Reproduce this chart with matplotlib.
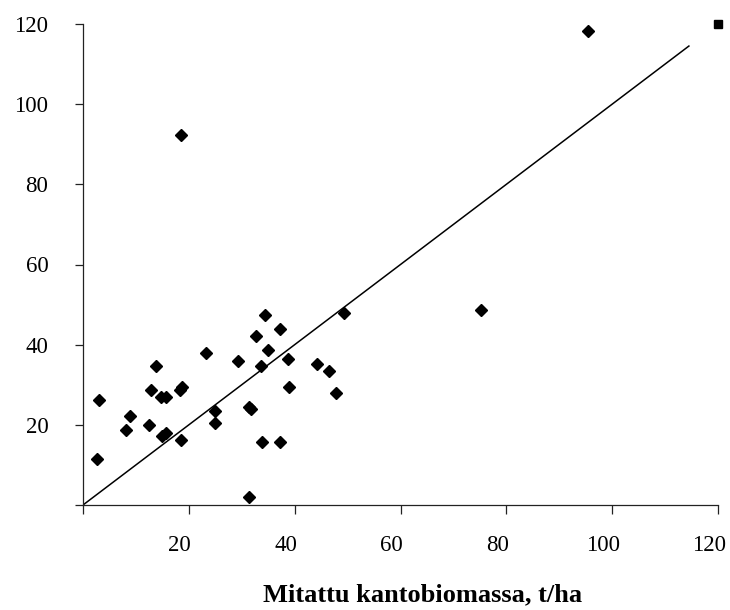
import numpy as np
import matplotlib
matplotlib.use("Agg")
from matplotlib import pyplot as plt
import matplotlib.transforms as mtransforms

# measured vs. modelled stump biomass, t/ha
measured = [2.6, 3.1, 8.1, 8.8, 12.5, 12.9, 13.8, 14.7, 15.7, 14.9, 15.7, 18.3,
            18.8, 18.5, 18.5, 23.2, 25.0, 25.0, 29.2, 31.4, 31.7, 31.4, 32.7, 33.6,
            34.4, 35.0, 33.9, 37.2, 37.2, 38.8, 38.9, 44.2, 46.5, 47.9, 49.3, 75.2,
            95.5]
modelled = [11.4, 26.2, 18.7, 22.2, 20.0, 28.7, 34.8, 27.0, 27.0, 17.2, 17.9, 28.7,
            29.4, 16.2, 92.4, 37.8, 23.5, 20.4, 36.0, 24.4, 23.9, 1.9, 42.2, 34.8,
            47.4, 38.7, 15.6, 15.6, 43.8, 36.4, 29.5, 35.3, 33.5, 27.9, 48.0, 48.7,
            118.3]

# 1:1 reference line and the corner point
line_x = [0, 114.5]
line_y = [0, 114.5]
corner_x = [120]
corner_y = [120]

ticks = [0, 20, 40, 60, 80, 100, 120]
tick_labels = ['', '20', '40', '60', '80', '100', '120']
xlabel = 'Mitattu kantobiomassa, t/ha'

plt.rcParams['font.family'] = ['Liberation Serif', 'DejaVu Serif']

fig = plt.figure(figsize=(7.3, 6.1), dpi=100)
ax = fig.add_axes([83/730, 105/610, 635/730, 481/610])

ax.plot(line_x, line_y, color='black', lw=1.1)
ax.plot(measured, modelled, linestyle='none', marker='D', ms=5.8,
        color='black', clip_on=False)
ax.plot(corner_x, corner_y, linestyle='none', marker='s', ms=6,
        color='black', clip_on=False)

ax.set_xlim(0, 120)
ax.set_ylim(0, 120)
ax.set_xticks(ticks)
ax.set_xticklabels(tick_labels)
ax.set_yticks(ticks)
ax.set_yticklabels(tick_labels)

for side in ['top', 'right']:
    ax.spines[side].set_visible(False)
for side in ['left', 'bottom']:
    ax.spines[side].set_color('#222222')
    ax.spines[side].set_linewidth(0.9)

ax.tick_params(axis='x', direction='out', length=6.5, width=0.9, pad=15,
               labelsize=16.5, color='#222222')
ax.tick_params(axis='y', direction='out', length=6, width=0.9, pad=19,
               labelsize=16.5, color='#222222')

# labels sit a little left of their ticks in the original
offset = mtransforms.ScaledTranslation(-9/100, 0, fig.dpi_scale_trans)
for lab in ax.xaxis.get_majorticklabels():
    lab.set_transform(lab.get_transform() + offset)

ax.set_xlabel(xlabel, fontsize=19, fontweight='bold')
ax.xaxis.set_label_coords(0.534, -0.162)

fig.savefig('out.png', dpi=100)
